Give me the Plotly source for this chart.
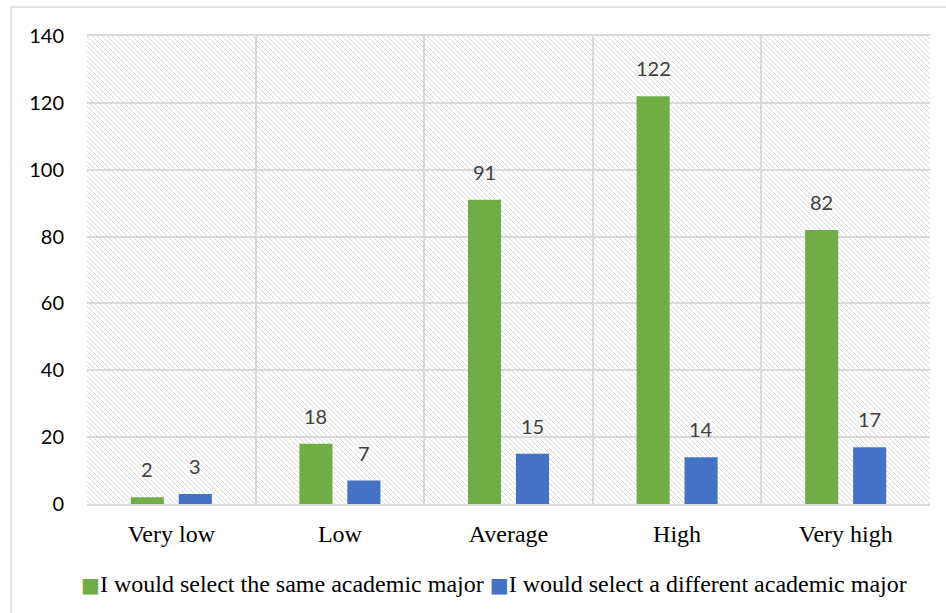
import base64
import plotly.graph_objects as go

# Survey responses by level
categories = ["Very low", "Low", "Average", "High", "Very high"]
same_major = [2, 18, 91, 122, 82]
different_major = [3, 7, 15, 14, 17]
series_names = [
    "I would select the same academic major",
    "I would select a different academic major",
]
y_ticks = [0, 20, 40, 60, 80, 100, 120, 140]

GREEN = "#70AD47"
BLUE = "#4472C4"
GRID = "#D9D9D9"
SERIF = "Liberation Serif, Times New Roman, serif"

W, H = 946, 613
M_L, M_R, M_T, M_B = 87, 16, 36, 109
PLOT_W = W - M_L - M_R
PLOT_H = H - M_T - M_B
BARGAP = 0.431
BARGROUPGAP = 0.31

fig = go.Figure()
fig.add_trace(go.Bar(x=categories, y=same_major, name=series_names[0],
                     marker=dict(color=GREEN, line=dict(width=0))))
fig.add_trace(go.Bar(x=categories, y=different_major, name=series_names[1],
                     marker=dict(color=BLUE, line=dict(width=0))))

# value labels above each bar, offset to the centre of its group slot
slot_shift = PLOT_W / len(categories) * (1 - BARGAP) / 4
annotations = []
for vals, sign in ((same_major, -1), (different_major, 1)):
    for c, v in zip(categories, vals):
        annotations.append(dict(
            x=c, y=v, xref="x", yref="y", text=str(v), showarrow=False,
            xshift=sign * slot_shift, yshift=14, yanchor="bottom",
            font=dict(family="Lato", size=20, color="#404040"),
        ))

# legend row under the category labels
def key(color):
    return (f"<span style='color:{color};font-family:DejaVu Sans;"
            f"font-size:20px'>■</span>")

legend_text = (key(GREEN) + series_names[0] + " " +
               key(BLUE) + series_names[1])
annotations.append(dict(
    xref="paper", yref="paper", x=(494 - M_L) / PLOT_W, y=(504 - 584) / PLOT_H,
    xanchor="center", yanchor="middle", text=legend_text, showarrow=False,
    font=dict(family=SERIF, size=24, color="black"),
))

# diagonal hatch behind the plot area
hatch_svg = f"""<svg xmlns="http://www.w3.org/2000/svg" width="{PLOT_W}" height="{PLOT_H}">
<defs><pattern id="h" width="5" height="5" patternUnits="userSpaceOnUse">
<rect width="5" height="5" fill="white"/>
<path d="M-1,-1 L6,6 M-1,4 L1,6 M4,-1 L6,1" stroke="#DADADA" stroke-width="1"/>
</pattern></defs>
<rect width="{PLOT_W}" height="{PLOT_H}" fill="url(#h)"/></svg>"""
hatch_src = "data:image/svg+xml;base64," + base64.b64encode(hatch_svg.encode()).decode()

fig.update_layout(
    width=W, height=H, autosize=False,
    margin=dict(l=M_L, r=M_R, t=M_T, b=M_B, pad=0),
    paper_bgcolor="white", plot_bgcolor="rgba(0,0,0,0)",
    barmode="group", bargap=BARGAP, bargroupgap=BARGROUPGAP,
    annotations=annotations,
    images=[dict(source=hatch_src, xref="paper", yref="paper", x=0, y=1,
                 sizex=1, sizey=1, sizing="stretch", xanchor="left",
                 yanchor="top", layer="below")],
    shapes=[dict(type="rect", xref="paper", yref="paper",
                 x0=(11 - M_L) / PLOT_W, x1=(W + 5 - M_L) / PLOT_W,
                 y0=-(M_B + 5) / PLOT_H, y1=(PLOT_H + M_T - 7) / PLOT_H,
                 line=dict(color=GRID, width=1.5), fillcolor="rgba(0,0,0,0)",
                 layer="below")],
    showlegend=False,
    xaxis=dict(type="category", tickson="boundaries", showgrid=True,
               gridcolor=GRID, gridwidth=1.5, ticks="", showline=True,
               linecolor=GRID, linewidth=1.5, mirror=True,
               ticklabelstandoff=7,
               tickfont=dict(family=SERIF, size=24, color="black")),
    yaxis=dict(range=[0, 140], tickvals=y_ticks, showgrid=True,
               gridcolor=GRID, gridwidth=1.5, zeroline=False, ticks="",
               showline=False, ticklabelstandoff=22,
               tickfont=dict(family="Lato", size=20, color="black")),
)

fig.write_html("out.html")
